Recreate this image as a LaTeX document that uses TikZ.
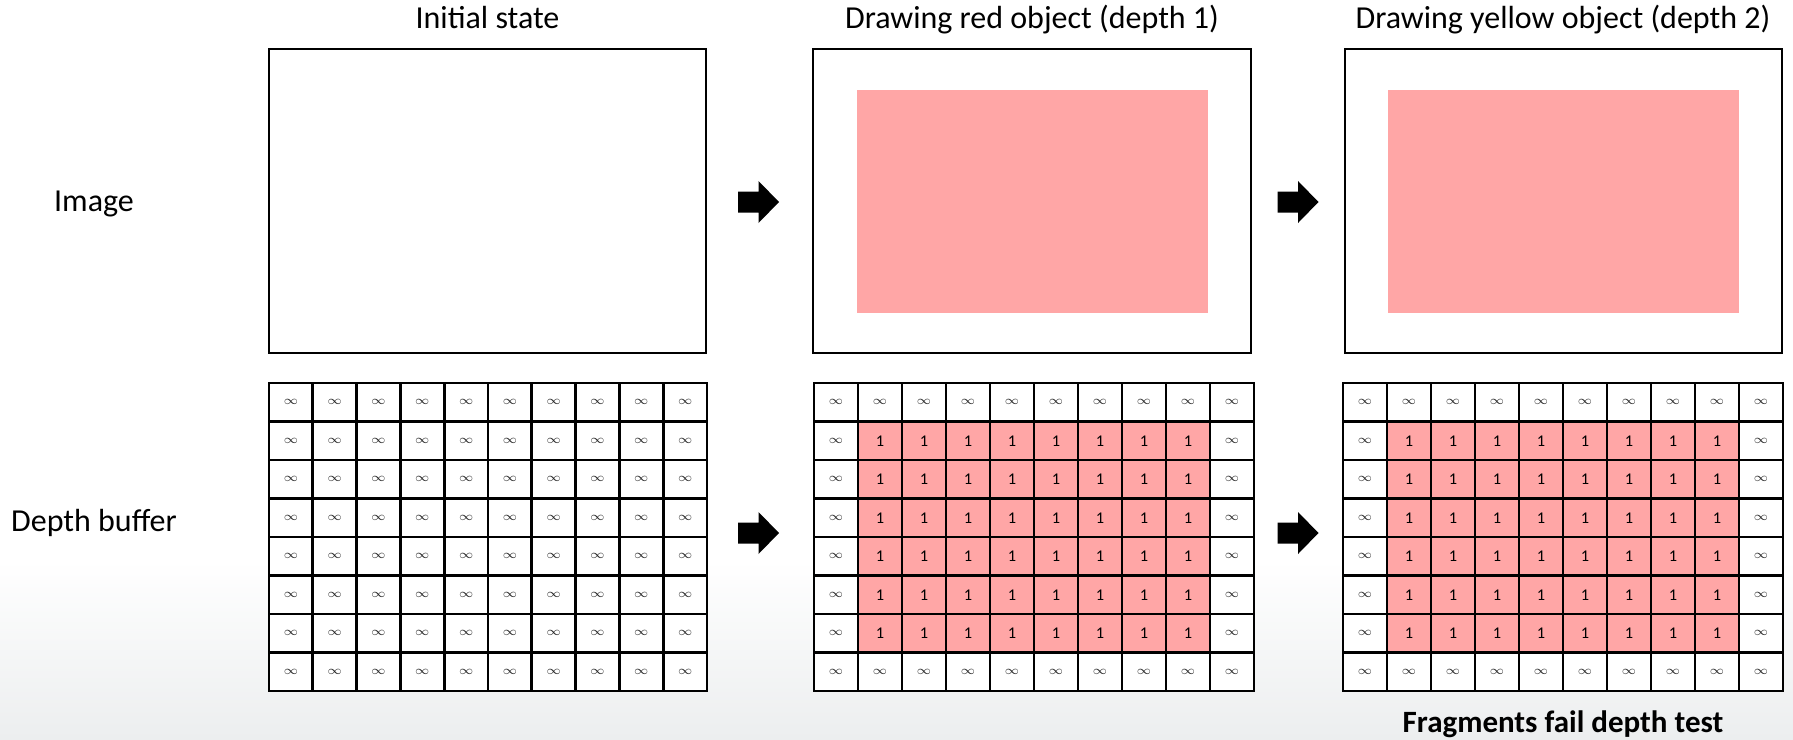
\documentclass[tikz,border=0pt]{standalone}
\usepackage{fontspec}
\setmainfont{Carlito}
\definecolor{objpink}{RGB}{255,166,166}
\definecolor{bgbot}{RGB}{236,238,239}
\tikzset{
  frame/.style={draw=black, line width=1.4pt, rectangle, inner sep=0pt},
  gridline/.style={draw=black, line width=1.45pt},
  objfill/.style={fill=objpink, rectangle, inner sep=0pt},
  labeltext/.style={font=\fontsize{16}{19}\selectfont, anchor=base, inner sep=0pt},
  inftext/.style={font=\fontsize{6}{7}\selectfont, text=black!85, inner sep=0pt},
  onetext/.style={font=\fontsize{8.2}{9}\selectfont, inner sep=0pt},
  pics/fatarrow/.style={code={
    \fill[black] (-20.5,-10.5) -- (0,-10.5) -- (0,-21) -- (20.5,0)
      -- (0,21) -- (0,10.5) -- (-20.5,10.5) -- cycle;}}
}
% depth buffer grid: #1 name, #2 left edge, #3 cell width, #4 = 1 when the object is stored
\newcommand{\dbgrid}[4]{%
  \fill[white] (#2,383) rectangle ({#2+10*#3},691);
  \ifnum#4=1
    \fill[objpink] ({#2+#3},421.5) rectangle ({#2+9*#3},652.5);
  \fi
  \foreach \c in {0,...,9}{
    \foreach \r in {0,...,7}{
      \pgfmathtruncatemacro{\inside}{(#4==1)&&(\c>0)&&(\c<9)&&(\r>0)&&(\r<7)}
      \ifnum\inside=1
        \node[onetext] (#1-\c-\r) at ({#2+(\c+0.5)*#3},{383+(\r+0.5)*38.5}) {1};
      \else
        \node[inftext] (#1-\c-\r) at ({#2+(\c+0.5)*#3},{383+(\r+0.5)*38.5}) {$\infty$};
      \fi
    }
  }
  \foreach \i in {1,...,9}{\draw[gridline] ({#2+\i*#3},383) -- ({#2+\i*#3},691);}
  \foreach \j in {1,...,7}{\draw[gridline] (#2,{383+\j*38.5}) -- ({#2+10*#3},{383+\j*38.5});}
  \node[frame, minimum width={10*#3*0.5pt}, minimum height=154pt]
    (#1) at ({#2+5*#3},537) {};
}
\begin{document}
\begin{tikzpicture}[x=0.5pt, y=-0.5pt]
  \useasboundingbox (0,0) rectangle (1793,739);
  % slide background with a soft grey fade at the bottom
  \fill[white] (0,0) rectangle (1793,739);
  \shade[top color=white, bottom color=bgbot] (0,560) rectangle (1793,739);

  % column titles
  \node[labeltext] (t1) at (487.5,28) {Initial state};
  \node[labeltext] (t2) at (1032,28) {Drawing red object (depth 1)};
  \node[labeltext] (t3) at (1563,28) {Drawing yellow object (depth 2)};

  % row labels
  \node[labeltext] (rimg) at (94,211) {Image};
  \node[labeltext] (rdep) at (94,531.5) {Depth buffer};

  % image frames
  \node[objfill, minimum width=175.5pt, minimum height=111.5pt] (obj2) at (1032.5,201.5) {};
  \node[objfill, minimum width=175.5pt, minimum height=111.5pt] (obj3) at (1563.5,201.5) {};
  \node[frame, minimum width=218.5pt, minimum height=152pt] (img1) at (487.5,201) {};
  \node[frame, minimum width=219pt, minimum height=152pt] (img2) at (1032,201) {};
  \node[frame, minimum width=218.5pt, minimum height=152pt] (img3) at (1563.5,201) {};

  % depth buffers
  \dbgrid{buf1}{269}{43.8}{0}
  \dbgrid{buf2}{814}{44}{1}
  \dbgrid{buf3}{1343}{44}{1}

  % step arrows
  \pic (a1) at (758.5,202) {fatarrow};
  \pic (a2) at (1298,202) {fatarrow};
  \pic (a3) at (758.5,533) {fatarrow};
  \pic (a4) at (1298,533) {fatarrow};

  \node[labeltext, font=\fontsize{15.5}{18}\selectfont\bfseries] (note) at (1563,732) {Fragments fail depth test};
\end{tikzpicture}
\end{document}
